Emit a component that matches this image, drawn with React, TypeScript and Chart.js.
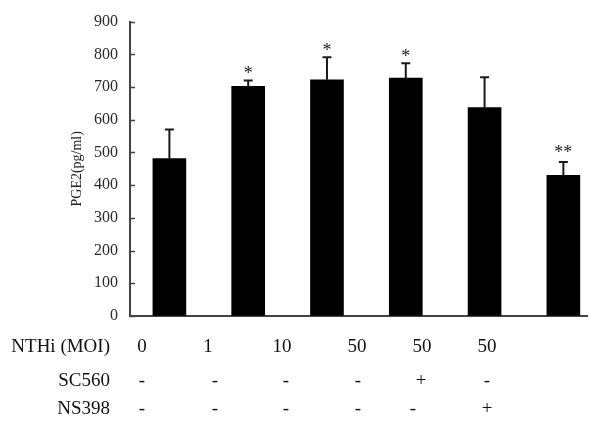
import React, { useEffect, useRef } from "react";
import { Chart, registerables } from "chart.js";

Chart.register(...registerables);

// ---- data ----
const moiGroups = ["0", "1", "10", "50", "50", "50"];
const pge2Means = [481, 702, 722, 727, 637, 430];
const pge2Errors = [89, 18, 69, 46, 93, 41];
const significance = ["", "*", "*", "*", "", "**"];
const sc560Row = ["-", "-", "-", "-", "+", "-"];
const ns398Row = ["-", "-", "-", "-", "-", "+"];
const yAxisTitle = "PGE2(pg/ml)";
const rowLabels = ["NTHi (MOI)", "SC560", "NS398"];

const SERIF = '"Liberation Serif", "Times New Roman", serif';
const AXIS_COLOR = "#444444";

const annotationPlugin = {
  id: "annotations",
  afterDatasetsDraw(chart: any) {
    const ctx = chart.ctx;
    const yScale = chart.scales.y;
    const meta = chart.getDatasetMeta(0);
    ctx.save();
    // inward tick marks on the y axis
    ctx.strokeStyle = AXIS_COLOR;
    ctx.lineWidth = 1.5;
    ctx.beginPath();
    yScale.ticks.forEach((t: any) => {
      const y = Math.round(yScale.getPixelForValue(t.value)) + 0.5;
      ctx.moveTo(yScale.right, y);
      ctx.lineTo(yScale.right + 5, y);
    });
    ctx.stroke();
    // error bars
    meta.data.forEach((bar: any, i: number) => {
      const x = bar.x;
      const yTop = yScale.getPixelForValue(pge2Means[i] + pge2Errors[i]);
      const yBar = yScale.getPixelForValue(pge2Means[i]);
      ctx.strokeStyle = "#1a1a1a";
      ctx.lineWidth = 2;
      ctx.beginPath();
      ctx.moveTo(x, yBar);
      ctx.lineTo(x, yTop);
      ctx.moveTo(x - 4.5, yTop);
      ctx.lineTo(x + 4.5, yTop);
      ctx.stroke();
      if (significance[i]) {
        ctx.fillStyle = "#1a1a1a";
        ctx.font = `18px ${SERIF}`;
        ctx.textAlign = "center";
        ctx.textBaseline = "alphabetic";
        const extra = significance[i].length > 1 ? 3 : 0;
        ctx.fillText(significance[i], x, yTop - 1 - extra);
      }
    });
    ctx.restore();
  },
  afterDraw(chart: any) {
    const ctx = chart.ctx;
    const area = chart.chartArea;
    ctx.save();
    // y axis title
    ctx.fillStyle = "#222";
    ctx.font = `14px ${SERIF}`;
    ctx.translate(77, (area.top + area.bottom) / 2);
    ctx.rotate(-Math.PI / 2);
    ctx.textAlign = "center";
    ctx.textBaseline = "middle";
    ctx.fillText(yAxisTitle, 0, 0);
    ctx.restore();

    // condition table under the chart
    ctx.save();
    ctx.fillStyle = "#111";
    ctx.font = `19px ${SERIF}`;
    ctx.textBaseline = "middle";
    const rows = [moiGroups, sc560Row, ns398Row];
    const rowY = [347, 381, 409];
    const colX = [
      [142, 208, 282, 357, 422, 487],
      [142, 215, 286, 358, 421, 487],
      [142, 215, 286, 358, 413, 487],
    ];
    rows.forEach((row, r) => {
      ctx.textAlign = "right";
      ctx.fillText(rowLabels[r], 110, rowY[r]);
      ctx.textAlign = "center";
      row.forEach((txt, c) => {
        ctx.fillText(txt, colX[r][c], rowY[r]);
      });
    });
    ctx.restore();
  },
};

export default function App() {
  const canvasRef = useRef<HTMLCanvasElement | null>(null);

  useEffect(() => {
    const canvas = canvasRef.current;
    if (!canvas) return;
    const chart = new Chart(canvas, {
      type: "bar",
      data: {
        datasets: [
          {
            label: "PGE2",
            data: pge2Means.map((v, i) => ({ x: i, y: v })),
            backgroundColor: "#000000",
            borderColor: "#000000",
            borderWidth: 0,
            barThickness: 33,
          },
        ],
      },
      options: {
        responsive: false,
        animation: false,
        layout: { padding: { top: 21, right: 13, left: 0, bottom: 0 } },
        plugins: {
          legend: { display: false },
          tooltip: { enabled: false },
          title: { display: false },
        },
        scales: {
          x: {
            type: "linear",
            offset: false,
            min: -0.5,
            max: 5.3,
            ticks: { display: false },
            grid: { display: false, offset: false },
            border: { display: true, color: AXIS_COLOR, width: 2 },
            afterFit: (scale: any) => {
              scale.height = 117;
            },
          },
          y: {
            min: 0,
            max: 900,
            ticks: {
              stepSize: 100,
              color: "#2a2a2a",
              padding: 12,
              font: { family: SERIF, size: 16 },
            },
            grid: {
              display: true,
              drawOnChartArea: false,
              drawTicks: false,
              tickLength: 0,
              color: "rgba(0,0,0,0)",
            },
            border: { display: true, color: AXIS_COLOR, width: 2 },
            afterFit: (scale: any) => {
              scale.width = 130;
            },
          },
        },
      },
      plugins: [annotationPlugin],
    });
    return () => chart.destroy();
  }, []);

  return (
    <div style={{ position: "absolute", left: 0, top: 0, width: 600, height: 433, background: "#fff" }}>
      <canvas ref={canvasRef} width={600} height={433} />
    </div>
  );
}
